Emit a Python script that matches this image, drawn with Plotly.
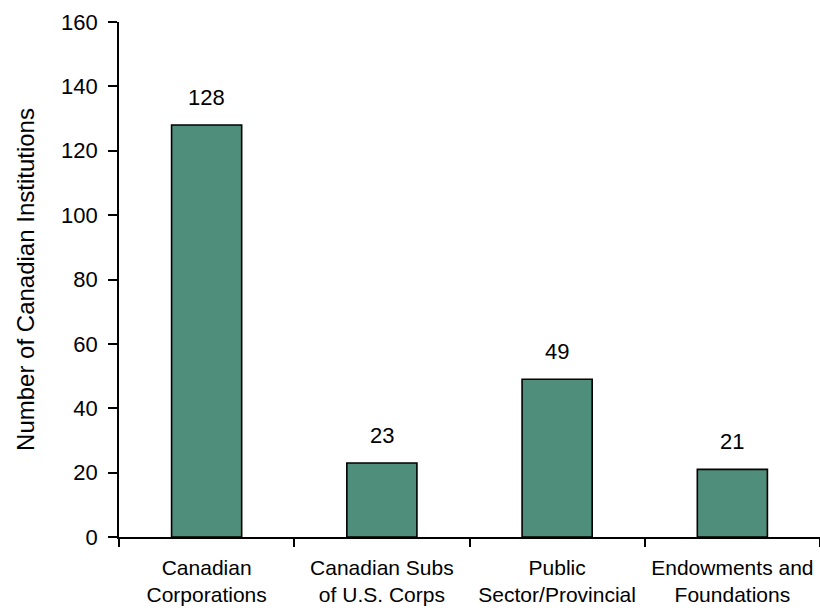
import plotly.graph_objects as go

categories = ["Canadian<br>Corporations", "Canadian Subs<br>of U.S. Corps",
              "Public<br>Sector/Provincial", "Endowments and<br>Foundations"]
values = [128, 23, 49, 21]
y_ticks = [0, 20, 40, 60, 80, 100, 120, 140, 160]

FONT = "Liberation Sans, Arial, sans-serif"
BAR_COLOR = "#4F8E7B"

fig = go.Figure()
fig.add_trace(go.Bar(
    x=categories, y=values,
    marker=dict(color=BAR_COLOR, line=dict(color="black", width=1.6)),
    width=0.4,
    hoverinfo="x+y",
))

for c, v in zip(categories, values):
    fig.add_annotation(x=c, y=v, text=str(v), showarrow=False,
                       yanchor="bottom", yshift=13,
                       font=dict(family=FONT, size=22, color="black"))

fig.update_layout(
    width=820, height=610,
    margin=dict(l=119, r=0, t=22, b=73),
    plot_bgcolor="white", paper_bgcolor="white",
    showlegend=False,
    font=dict(family=FONT, color="black"),
    bargap=0.6,
)
fig.update_xaxes(
    showline=True, linecolor="black", linewidth=1.6,
    ticks="outside", tickson="boundaries", ticklen=8, tickcolor="black", tickwidth=1.6,
    tickfont=dict(family=FONT, size=21, color="black"),
    ticklabelstandoff=11,
    showgrid=False, zeroline=False,
)
fig.update_yaxes(
    range=[0, 160], tickvals=y_ticks,
    showline=True, linecolor="black", linewidth=1.6,
    ticks="outside", ticklen=9, tickcolor="black", tickwidth=1.6,
    tickfont=dict(family=FONT, size=22, color="black"),
    ticklabelstandoff=6,
    showgrid=False, zeroline=False,
    title=dict(text="Number of Canadian Institutions", standoff=20,
               font=dict(family=FONT, size=24, color="black")),
)

fig.write_html("out.html")
